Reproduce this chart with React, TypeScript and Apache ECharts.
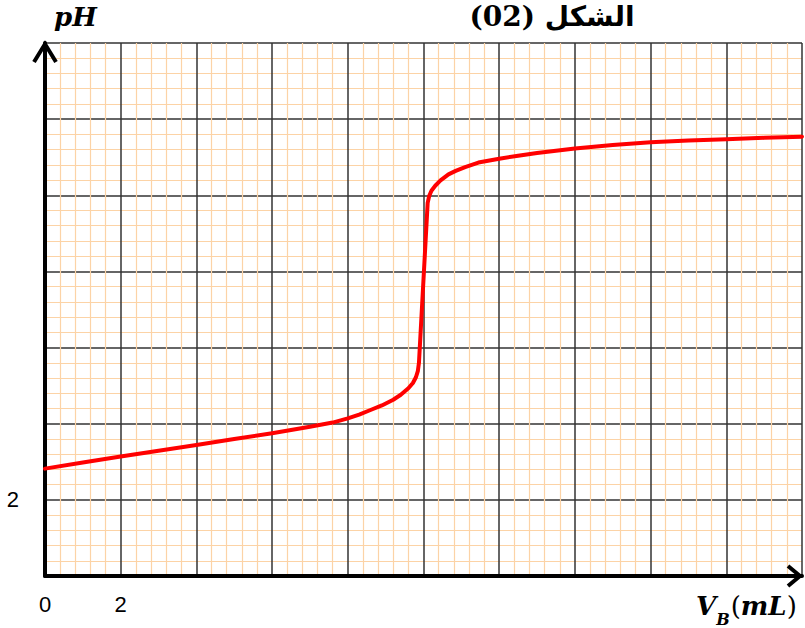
import React, { useEffect, useRef } from "react";
import * as echarts from "echarts";

// Titration curve data: volume of base V_B (mL) vs pH
const volumes = [0, 1, 2, 3, 4, 5, 6, 7, 7.6, 8, 8.3, 8.6, 8.9, 9.2, 9.4, 9.6, 9.72, 9.8, 9.85, 9.88, 10.11, 10.15, 10.21, 10.31, 10.45, 10.66, 10.85, 11.1, 11.45, 12, 12.5, 13, 14, 15, 16, 17, 18, 19, 20];
const phValues = [2.82, 2.98, 3.14, 3.29, 3.44, 3.6, 3.75, 3.92, 4.03, 4.14, 4.24, 4.36, 4.48, 4.63, 4.76, 4.93, 5.07, 5.22, 5.38, 5.6, 9.8, 9.98, 10.12, 10.25, 10.39, 10.55, 10.64, 10.74, 10.86, 10.96, 11.04, 11.11, 11.23, 11.32, 11.39, 11.44, 11.47, 11.51, 11.54];
const xTickLabels = ["0", "2"];
const yTickLabels = ["2"];
const titleText = "الشكل (02)";

export default function App() {
  const ref = useRef<HTMLDivElement>(null);
  useEffect(() => {
    document.body.style.margin = "0";
    const chart = echarts.init(ref.current!, null, { renderer: "svg" });
    const data = volumes.map((v, i) => [v, phValues[i]]);
    chart.setOption({
      animation: false,
      backgroundColor: "#ffffff",
      grid: { left: 45, top: 43, width: 759, height: 533, containLabel: false },
      xAxis: {
        type: "value",
        min: 0,
        max: 20,
        interval: 2,
        axisLine: { show: true, onZero: true, lineStyle: { color: "#000", width: 4 } },
        axisTick: { show: false },
        axisLabel: {
          margin: 17,
          fontFamily: "Liberation Sans, Arial, sans-serif",
          fontSize: 22,
          color: "#000",
          formatter: (v: number) => (xTickLabels.includes(String(v)) ? String(v) : ""),
        },
        splitLine: { show: true, lineStyle: { color: "#333", width: 1.5 } },
        minorTick: { show: false, splitNumber: 5 },
        minorSplitLine: { show: true, lineStyle: { color: "#fcd3a6", width: 1.2 } },
      },
      yAxis: {
        type: "value",
        min: 0,
        max: 14,
        interval: 2,
        axisLine: { show: true, lineStyle: { color: "#000", width: 4 } },
        axisTick: { show: false },
        axisLabel: {
          margin: 26,
          fontFamily: "Liberation Sans, Arial, sans-serif",
          fontSize: 22,
          color: "#000",
          formatter: (v: number) => (yTickLabels.includes(String(v)) ? String(v) : ""),
        },
        splitLine: { show: true, lineStyle: { color: "#333", width: 1.5 } },
        minorTick: { show: false, splitNumber: 5 },
        minorSplitLine: { show: true, lineStyle: { color: "#fcd3a6", width: 1.2 } },
      },
      series: [
        {
          type: "line",
          data,
          showSymbol: false,
          smooth: false,
          lineStyle: { color: "#ff0000", width: 4, join: "round", cap: "round" },
          z: 5,
        },
      ],
    });

    const o = chart.convertToPixel({ gridIndex: 0 }, [0, 0]) as number[];
    const yTop = chart.convertToPixel({ gridIndex: 0 }, [0, 14]) as number[];
    const xEnd = chart.convertToPixel({ gridIndex: 0 }, [20, 0]) as number[];

    chart.setOption({
      graphic: [
        {
          type: "polyline",
          z: 100,
          shape: { points: [[o[0] - 11, yTop[1] + 19], [o[0], yTop[1] + 1], [o[0] + 11, yTop[1] + 19]] },
          style: { stroke: "#000", lineWidth: 4, fill: "none" },
        },
        {
          type: "line",
          z: 99,
          shape: { x1: o[0], y1: yTop[1] + 2, x2: o[0], y2: yTop[1] + 20 },
          style: { stroke: "#000", lineWidth: 4 },
        },
        {
          type: "polyline",
          z: 100,
          shape: { points: [[xEnd[0] - 14, o[1] - 10], [xEnd[0] - 2, o[1]], [xEnd[0] - 14, o[1] + 10]] },
          style: { stroke: "#000", lineWidth: 4, fill: "none" },
        },
        {
          type: "text",
          z: 100,
          left: 54,
          top: 4,
          style: {
            text: "pH",
            font: "italic bold 26px 'DejaVu Serif', serif",
            fill: "#000",
          },
        },
        {
          type: "text",
          z: 100,
          left: 696,
          top: 593,
          style: {
            text: "{v|V}{b|B}{p|(}{v|mL}{p|)}",
            rich: {
              v: { font: "italic bold 26px 'DejaVu Serif', serif", fill: "#000", verticalAlign: "bottom" },
              b: { font: "italic bold 16px 'DejaVu Serif', serif", fill: "#000", padding: [0, 1, -8, 0], verticalAlign: "bottom" },
              p: { font: "26px 'DejaVu Serif', serif", fill: "#000", verticalAlign: "bottom" },
            },
          },
        },
        {
          type: "text",
          z: 100,
          x: 552,
          y: 2,
          style: {
            text: titleText,
            font: "bold 28px 'DejaVu Serif', 'DejaVu Sans', serif",
            fill: "#000",
            align: "center",
            verticalAlign: "top",
          },
        },
      ],
    });

    return () => chart.dispose();
  }, []);
  return <div ref={ref} style={{ width: 805, height: 628 }} />;
}
